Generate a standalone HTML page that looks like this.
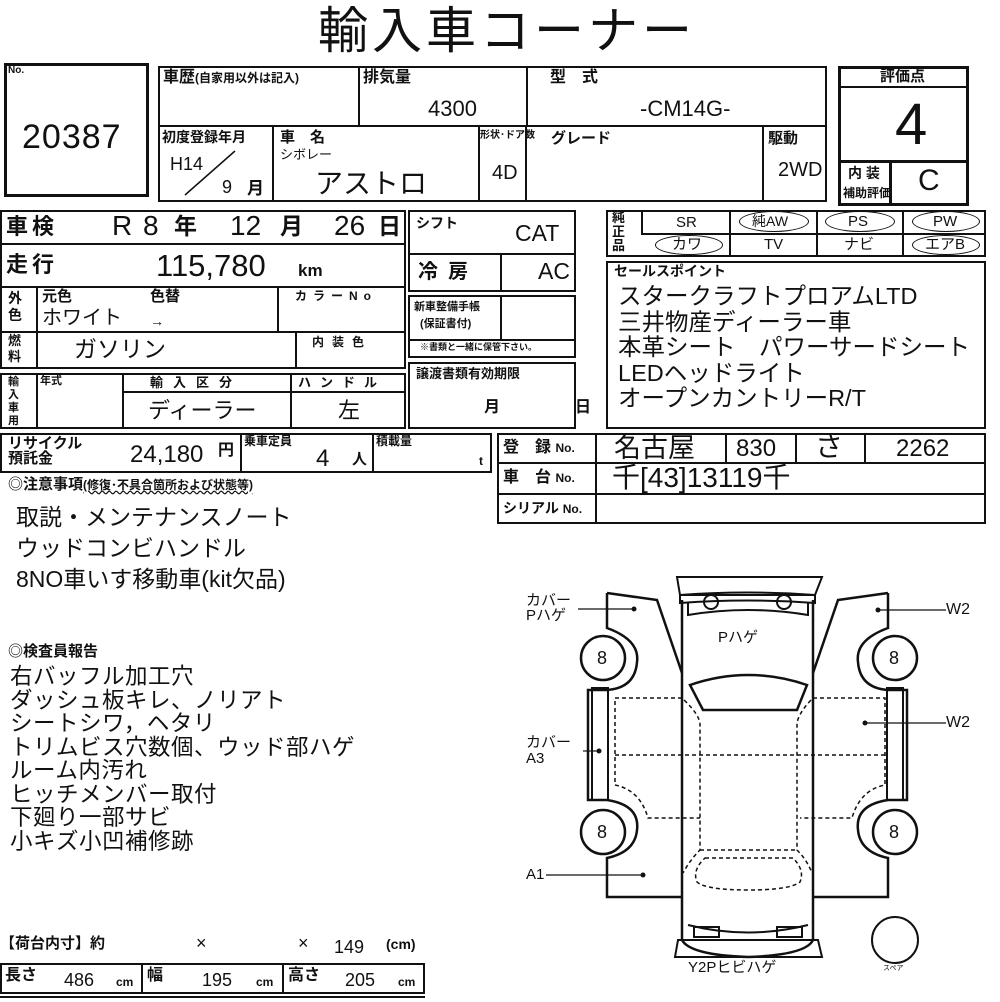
<!DOCTYPE html>
<html><head><meta charset="utf-8">
<style>
body{margin:0;width:1000px;height:1000px;background:#fff;position:relative;overflow:hidden;font-family:"Liberation Sans","Noto Sans CJK JP",sans-serif;color:#111}
.c{position:absolute;border:2px solid #111;box-sizing:border-box}
.t{position:absolute;white-space:nowrap;line-height:1}
.b{font-weight:bold}
.ov{position:absolute;border:1.5px solid #111;border-radius:50%;box-sizing:border-box}
</style></head><body>
<div class="t" style="left:318px;top:6px;font-size:50px;letter-spacing:4px">輸入車コーナー</div>

<div class="c" style="left:4px;top:63px;width:145px;height:134px;border-width:3px"></div>
<div class="t b" style="left:8px;top:66px;font-size:10px">No.</div>
<div class="t" style="left:22px;top:120px;font-size:34px;letter-spacing:1px">20387</div>

<div class="c" style="left:158px;top:66px;width:202px;height:61px"></div>
<div class="t b" style="left:163px;top:70px;font-size:16px">車歴<span style="font-size:12px">(自家用以外は記入)</span></div>
<div class="c" style="left:358px;top:66px;width:170px;height:61px"></div>
<div class="t b" style="left:363px;top:70px;font-size:16px">排気量</div>
<div class="t" style="left:428px;top:98px;font-size:22px">4300</div>
<div class="c" style="left:526px;top:66px;width:301px;height:61px"></div>
<div class="t b" style="left:550px;top:70px;font-size:16px">型　式</div>
<div class="t" style="left:640px;top:98px;font-size:22px">-CM14G-</div>

<div class="c" style="left:158px;top:125px;width:116px;height:77px"></div>
<div class="t b" style="left:162px;top:130px;font-size:14px">初度登録年月</div>
<div class="t" style="left:170px;top:155px;font-size:18px">H14</div>
<svg style="position:absolute;left:180px;top:148px" width="60" height="50"><line x1="55" y1="3" x2="5" y2="47" stroke="#111" stroke-width="1.5"/></svg>
<div class="t" style="left:222px;top:178px;font-size:18px">9</div>
<div class="t b" style="left:247px;top:180px;font-size:17px">月</div>
<div class="c" style="left:272px;top:125px;width:208px;height:77px"></div>
<div class="t b" style="left:280px;top:130px;font-size:15px">車　名</div>
<div class="t" style="left:280px;top:148px;font-size:13px">シボレー</div>
<div class="t" style="left:315px;top:170px;font-size:28px">アストロ</div>
<div class="c" style="left:478px;top:125px;width:49px;height:77px"></div>
<div class="t b" style="left:480px;top:131px;font-size:10px">形状･ドア数</div>
<div class="t" style="left:492px;top:163px;font-size:20px">4D</div>
<div class="c" style="left:525px;top:125px;width:239px;height:77px"></div>
<div class="t b" style="left:551px;top:131px;font-size:15px">グレード</div>
<div class="c" style="left:762px;top:125px;width:65px;height:77px"></div>
<div class="t b" style="left:768px;top:131px;font-size:15px">駆動</div>
<div class="t" style="left:778px;top:160px;font-size:20px">2WD</div>

<div class="c" style="left:838px;top:66px;width:131px;height:140px;border-width:3px"></div>
<div class="c" style="left:838px;top:66px;width:131px;height:22px;border-width:0 0 2px 0"></div>
<div class="t b" style="left:880px;top:69px;font-size:15px">評価点</div>
<div class="t" style="left:895px;top:96px;font-size:58px">4</div>
<div class="c" style="left:838px;top:160px;width:131px;height:46px;border-width:3px"></div>
<div class="c" style="left:889px;top:160px;width:3px;height:46px;border-width:0 0 0 3px"></div>
<div class="t b" style="left:848px;top:166px;font-size:14px">内 装</div>
<div class="t b" style="left:843px;top:187px;font-size:12px">補助評価</div>
<div class="t" style="left:918px;top:166px;font-size:30px">C</div>

<div class="c" style="left:0px;top:210px;width:406px;height:35px"></div>
<div class="t b" style="left:6px;top:216px;font-size:22px;letter-spacing:4px">車検</div>
<div class="t" style="left:112px;top:212px;font-size:28px">R</div>
<div class="t" style="left:143px;top:212px;font-size:28px">8</div>
<div class="t b" style="left:174px;top:215px;font-size:23px">年</div>
<div class="t" style="left:230px;top:212px;font-size:28px">12</div>
<div class="t b" style="left:280px;top:215px;font-size:23px">月</div>
<div class="t" style="left:334px;top:212px;font-size:28px">26</div>
<div class="t b" style="left:378px;top:215px;font-size:23px">日</div>
<div class="c" style="left:0px;top:243px;width:406px;height:45px"></div>
<div class="t b" style="left:6px;top:254px;font-size:22px;letter-spacing:4px">走行</div>
<div class="t" style="left:156px;top:250px;font-size:31px">115,780</div>
<div class="t b" style="left:298px;top:262px;font-size:17px">km</div>
<div class="c" style="left:0px;top:286px;width:406px;height:47px"></div>
<div class="c" style="left:36px;top:286px;width:243px;height:47px"></div>
<div class="t b" style="left:8px;top:290px;font-size:14px;line-height:17px;width:16px;white-space:normal">外色</div>
<div class="t b" style="left:42px;top:289px;font-size:15px">元色</div>
<div class="t b" style="left:150px;top:289px;font-size:15px">色替</div>
<div class="t" style="left:42px;top:308px;font-size:20px">ホワイト</div>
<div class="t" style="left:150px;top:314px;font-size:14px">→</div>
<div class="t b" style="left:295px;top:290px;font-size:12px;letter-spacing:6px">カラーNo</div>
<div class="c" style="left:0px;top:331px;width:406px;height:38px"></div>
<div class="c" style="left:36px;top:331px;width:261px;height:38px"></div>
<div class="t b" style="left:8px;top:333px;font-size:13px;line-height:16px;width:16px;white-space:normal">燃料</div>
<div class="t" style="left:74px;top:338px;font-size:23px">ガソリン</div>
<div class="t b" style="left:312px;top:336px;font-size:12px;letter-spacing:8px">内装色</div>

<div class="c" style="left:0px;top:373px;width:406px;height:56px"></div>
<div class="c" style="left:36px;top:373px;width:88px;height:56px"></div>
<div class="c" style="left:122px;top:373px;width:170px;height:56px"></div>
<div class="c" style="left:122px;top:373px;width:284px;height:20px"></div>
<div class="t b" style="left:8px;top:376px;font-size:11px;line-height:13px;width:13px;white-space:normal">輸入車用</div>
<div class="t b" style="left:40px;top:376px;font-size:11px">年式</div>
<div class="t b" style="left:150px;top:376px;font-size:13px;letter-spacing:10px">輸入区分</div>
<div class="t b" style="left:298px;top:376px;font-size:13px;letter-spacing:9px">ハンドル</div>
<div class="t" style="left:148px;top:400px;font-size:22px">ディーラー</div>
<div class="t" style="left:338px;top:400px;font-size:22px">左</div>

<div class="c" style="left:408px;top:210px;width:168px;height:45px"></div>
<div class="t b" style="left:416px;top:216px;font-size:14px">シフト</div>
<div class="t" style="left:515px;top:222px;font-size:23px">CAT</div>
<div class="c" style="left:408px;top:253px;width:168px;height:39px"></div>
<div class="c" style="left:408px;top:253px;width:94px;height:39px"></div>
<div class="t b" style="left:418px;top:262px;font-size:20px;letter-spacing:10px">冷房</div>
<div class="t" style="left:538px;top:260px;font-size:23px">AC</div>
<div class="c" style="left:408px;top:295px;width:168px;height:46px"></div>
<div class="c" style="left:408px;top:295px;width:94px;height:46px"></div>
<div class="t b" style="left:414px;top:302px;font-size:11px">新車整備手帳</div>
<div class="t b" style="left:420px;top:319px;font-size:11px">(保証書付)</div>
<div class="c" style="left:408px;top:339px;width:168px;height:19px"></div>
<div class="t b" style="left:420px;top:343px;font-size:9px">※書類と一緒に保管下さい。</div>
<div class="c" style="left:408px;top:362px;width:168px;height:67px"></div>
<div class="t b" style="left:416px;top:367px;font-size:13px">譲渡書類有効期限</div>
<div class="t b" style="left:484px;top:400px;font-size:16px">月</div>
<div class="t b" style="left:575px;top:400px;font-size:16px">日</div>

<div class="c" style="left:606px;top:210px;width:380px;height:47px"></div>
<div class="c" style="left:641px;top:210px;width:345px;height:25px"></div>
<div class="c" style="left:729px;top:210px;width:89px;height:47px"></div>
<div class="c" style="left:902px;top:210px;width:2px;height:47px;border-width:0 0 0 2px"></div>
<div class="t b" style="left:612px;top:211px;font-size:13px;line-height:14px;width:14px;white-space:normal">純正品</div>
<div class="t" style="left:676px;top:215px;font-size:15px">SR</div>
<div class="ov" style="left:739px;top:211px;width:70px;height:21px"></div>
<div class="t" style="left:752px;top:214px;font-size:14px">純AW</div>
<div class="ov" style="left:825px;top:211px;width:70px;height:21px"></div>
<div class="t" style="left:848px;top:214px;font-size:15px">PS</div>
<div class="ov" style="left:912px;top:211px;width:68px;height:21px"></div>
<div class="t" style="left:933px;top:214px;font-size:15px">PW</div>
<div class="ov" style="left:655px;top:235px;width:68px;height:20px"></div>
<div class="t" style="left:672px;top:237px;font-size:15px">カワ</div>
<div class="t" style="left:764px;top:237px;font-size:15px">TV</div>
<div class="t" style="left:844px;top:237px;font-size:15px">ナビ</div>
<div class="ov" style="left:912px;top:235px;width:68px;height:20px"></div>
<div class="t" style="left:925px;top:237px;font-size:15px">エアB</div>

<div class="c" style="left:606px;top:261px;width:380px;height:168px"></div>
<div class="t b" style="left:614px;top:264px;font-size:14px">セールスポイント</div>
<div class="t" style="left:618px;top:284px;font-size:23.5px;line-height:25.5px">スタークラフトプロアムLTD<br>三井物産ディーラー車<br>本革シート　パワーサードシート<br>LEDヘッドライト<br>オープンカントリーR/T</div>

<div class="c" style="left:0px;top:433px;width:242px;height:40px"></div>
<div class="c" style="left:240px;top:433px;width:134px;height:40px"></div>
<div class="c" style="left:372px;top:433px;width:120px;height:40px"></div>
<div class="t b" style="left:8px;top:436px;font-size:15px;line-height:15px">リサイクル<br>預託金</div>
<div class="t" style="left:130px;top:443px;font-size:24px">24,180</div>
<div class="t b" style="left:218px;top:443px;font-size:16px">円</div>
<div class="t b" style="left:244px;top:435px;font-size:12px">乗車定員</div>
<div class="t" style="left:316px;top:447px;font-size:24px">4</div>
<div class="t b" style="left:352px;top:452px;font-size:15px">人</div>
<div class="t b" style="left:376px;top:435px;font-size:12px">積載量</div>
<div class="t b" style="left:479px;top:455px;font-size:12px">t</div>

<div class="c" style="left:497px;top:433px;width:489px;height:91px"></div>
<div class="c" style="left:497px;top:462px;width:489px;height:33px"></div>
<div class="c" style="left:595px;top:433px;width:2px;height:91px;border-width:0 0 0 2px"></div>
<div class="c" style="left:725px;top:433px;width:2px;height:30px;border-width:0 0 0 2px"></div>
<div class="c" style="left:795px;top:433px;width:2px;height:30px;border-width:0 0 0 2px"></div>
<div class="c" style="left:864px;top:433px;width:2px;height:30px;border-width:0 0 0 2px"></div>
<div class="t b" style="left:503px;top:440px;font-size:16px">登　録 <span style="font-size:12px">No.</span></div>
<div class="t b" style="left:503px;top:470px;font-size:16px">車　台 <span style="font-size:12px">No.</span></div>
<div class="t b" style="left:503px;top:501px;font-size:14px">シリアル <span style="font-size:12px">No.</span></div>
<div class="t" style="left:614px;top:435px;font-size:27px">名古屋</div>
<div class="t" style="left:736px;top:437px;font-size:24px">830</div>
<div class="t" style="left:815px;top:433px;font-size:28px">さ</div>
<div class="t" style="left:896px;top:437px;font-size:24px">2262</div>
<div class="t" style="left:612px;top:464px;font-size:28px">千[43]13119千</div>

<div class="t b" style="left:8px;top:477px;font-size:15px">◎注意事項<span style="font-size:12px;text-decoration:underline wavy">(修復･不具合箇所および状態等)</span></div>
<div class="t" style="left:16px;top:502px;font-size:23px;line-height:31px">取説・メンテナンスノート<br>ウッドコンビハンドル<br>8NO車いす移動車(kit欠品)</div>
<div class="t b" style="left:8px;top:644px;font-size:15px">◎検査員報告</div>
<div class="t" style="left:10px;top:665px;font-size:22.5px;line-height:23.5px;letter-spacing:0.5px">右バッフル加工穴<br>ダッシュ板キレ、ノリアト<br>シートシワ，ヘタリ<br>トリムビス穴数個、ウッド部ハゲ<br>ルーム内汚れ<br>ヒッチメンバー取付<br>下廻り一部サビ<br>小キズ小凹補修跡</div>

<div class="t b" style="left:0px;top:936px;font-size:15px">【荷台内寸】約</div>
<div class="t" style="left:196px;top:934px;font-size:18px">×</div>
<div class="t" style="left:298px;top:934px;font-size:18px">×</div>
<div class="t" style="left:334px;top:938px;font-size:18px">149</div>
<div class="t b" style="left:386px;top:937px;font-size:14px">(cm)</div>
<div class="c" style="left:0px;top:963px;width:425px;height:31px"></div>
<div class="c" style="left:141px;top:963px;width:143px;height:31px"></div>
<div class="t b" style="left:5px;top:968px;font-size:16px">長さ</div>
<div class="t" style="left:64px;top:971px;font-size:18px">486</div>
<div class="t b" style="left:116px;top:976px;font-size:12px">cm</div>
<div class="t b" style="left:147px;top:968px;font-size:16px">幅</div>
<div class="t" style="left:202px;top:971px;font-size:18px">195</div>
<div class="t b" style="left:256px;top:976px;font-size:12px">cm</div>
<div class="t b" style="left:288px;top:968px;font-size:16px">高さ</div>
<div class="t" style="left:345px;top:971px;font-size:18px">205</div>
<div class="t b" style="left:398px;top:976px;font-size:12px">cm</div>
<div class="c" style="left:0px;top:996px;width:425px;height:6px;border-width:2px 0 0 0"></div>

<svg style="position:absolute;left:0;top:0" width="1000" height="1000" fill="none" stroke="#111" stroke-width="2.5">
 <path d="M682,600 L682,940 Q690,955 748,957 Q806,955 813,940 L813,600"/>
 <path d="M677,577 L822,577 L815,595 L680,595 Z" stroke-width="2"/>
 <path d="M680,595 Q748,590 815,595 L815,603 Q748,598 680,603 Z" stroke-width="2"/>
 <path d="M688,603 L688,615 Q748,605 808,615 L808,603" stroke-width="2"/>
 <circle cx="711" cy="602" r="7" stroke-width="2"/><circle cx="784" cy="602" r="7" stroke-width="2"/>
 <path d="M690,685 Q748,665 807,685 L797,710 L703,710 Z"/>
 <path d="M688,925 Q748,940 808,925" stroke-width="2"/>
 <rect x="694" y="927" width="25" height="10" stroke-width="2"/><rect x="777" y="927" width="25" height="10" stroke-width="2"/>
 <path d="M678,940 L818,940 L822,957 L675,957 Z" stroke-width="2"/>
 <path d="M607,593 L607,628 Q640,640 637,662 Q635,688 607,690 L588,690 L588,800 L607,800 Q640,805 637,830 Q635,852 607,858 L607,897 L682,897"/>
 <path d="M607,593 L657,600 L682,673"/>
 <rect x="592" y="688" width="16" height="112" stroke-width="2"/>
 <circle cx="603" cy="658" r="22"/><circle cx="603" cy="832" r="22"/>
 <path d="M888,593 L888,628 Q855,640 858,662 Q860,688 888,690 L907,690 L907,800 L888,800 Q855,805 858,830 Q860,852 888,858 L888,897 L813,897"/>
 <path d="M888,593 L838,600 L813,673"/>
 <rect x="887" y="688" width="16" height="112" stroke-width="2"/>
 <circle cx="895" cy="658" r="22"/><circle cx="895" cy="832" r="22"/>
 <g stroke-width="1.5" stroke-dasharray="4,3">
  <path d="M682,698 L615,698 L615,785 Q640,790 648,818 L700,818"/>
  <path d="M813,698 L885,698 L885,785 Q860,790 852,818 L800,818"/>
  <path d="M615,755 L885,755"/>
  <path d="M684,700 Q700,715 700,725 L700,850 Q690,860 683,873"/>
  <path d="M811,700 Q797,715 797,725 L797,850 Q807,860 812,873"/>
  <path d="M700,850 L797,850"/>
  <path d="M705,858 L793,858 Q805,870 800,882 Q790,890 748,890 Q706,890 697,882 Q692,870 705,858 Z"/>
 </g>
 <circle cx="895" cy="940" r="23" stroke-width="2"/>
 <g stroke-width="1.2">
  <line x1="578" y1="609" x2="634" y2="609"/>
  <line x1="878" y1="610" x2="946" y2="610"/>
  <line x1="865" y1="723" x2="946" y2="723"/>
  <line x1="583" y1="751" x2="599" y2="751"/>
  <line x1="546" y1="875" x2="643" y2="875"/>
 </g>
 <g fill="#111" stroke="none">
  <circle cx="634" cy="609" r="2.5"/><circle cx="878" cy="610" r="2.5"/><circle cx="865" cy="723" r="2.5"/><circle cx="599" cy="751" r="2.5"/><circle cx="643" cy="875" r="2.5"/>
 </g>
</svg>
<div class="t" style="left:597px;top:649px;font-size:18px">8</div>
<div class="t" style="left:597px;top:823px;font-size:18px">8</div>
<div class="t" style="left:889px;top:649px;font-size:18px">8</div>
<div class="t" style="left:889px;top:823px;font-size:18px">8</div>
<div class="t" style="left:526px;top:593px;font-size:15px;line-height:15px">カバー<br>Pハゲ</div>
<div class="t" style="left:526px;top:735px;font-size:15px;line-height:16px">カバー<br>A3</div>
<div class="t" style="left:526px;top:867px;font-size:15px">A1</div>
<div class="t" style="left:946px;top:602px;font-size:16px">W2</div>
<div class="t" style="left:946px;top:715px;font-size:16px">W2</div>
<div class="t" style="left:718px;top:630px;font-size:15px">Pハゲ</div>
<div class="t" style="left:688px;top:960px;font-size:15px">Y2Pヒビハゲ</div>
<div class="t" style="left:883px;top:965px;font-size:7px">スペア</div>
</body></html>
